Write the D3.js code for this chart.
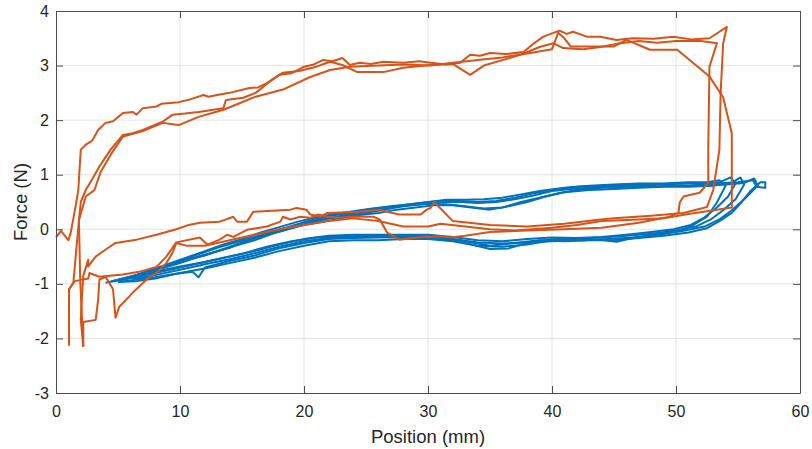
<!DOCTYPE html>
<html>
<head>
<meta charset="utf-8">
<script src="https://cdn.jsdelivr.net/npm/d3@7"></script>
<style>
  body { margin: 0; background: #fff; }
  svg text { font-family: "Liberation Sans", Arial, Helvetica, sans-serif; fill: #262626; }
</style>
</head>
<body>
<script>
// tick values
var xTicks = [0, 10, 20, 30, 40, 50, 60];
var yTicks = [-3, -2, -1, 0, 1, 2, 3, 4];

// blue loops [position, force]
var blue1 = [[4.0,-0.98],[5.5,-0.9],[7,-0.82],[8.5,-0.72],[10,-0.62],[11.5,-0.5],[13,-0.4],[14.5,-0.3],[16,-0.2],[17.5,-0.08],[19,0.02],[20.5,0.12],[22,0.2],[23.5,0.25],[25,0.3],[26.5,0.36],[28,0.42],[29.5,0.46],[31,0.5],[32.5,0.5],[34,0.48],[35.5,0.5],[37,0.55],[38.5,0.62],[40,0.7],[41.5,0.74],[43,0.76],[45,0.8],[47,0.8],[49,0.82],[51,0.8],[53,0.84],[55,0.86],[56.2,0.9],[56.5,0.78],[57.2,0.76],[57.2,0.86],[56.8,0.86],
  [56,0.7],[55.3,0.5],[54.5,0.3],[53.5,0.15],[52.5,0.02],[51,-0.06],[49,-0.12],[47,-0.16],[45,-0.2],[43,-0.2],[41,-0.22],[39,-0.2],[37,-0.25],[35,-0.3],[33,-0.22],[31,-0.15],[29,-0.12],[27,-0.12],[25,-0.12],[23,-0.13],[21,-0.15],[19,-0.22],[17,-0.32],[15,-0.45],[13,-0.55],[11,-0.65],[9,-0.75],[7,-0.85],[5.5,-0.92],[4.2,-0.97]];
var blue2 = [[4.5,-0.95],[6,-0.88],[7.5,-0.78],[9,-0.66],[10.5,-0.56],[12,-0.48],[13.5,-0.36],[15,-0.24],[16.5,-0.12],[18,-0.04],[19.5,0.06],[21,0.16],[22.5,0.22],[24,0.3],[25.5,0.34],[27,0.4],[28.5,0.44],[30,0.47],[31.5,0.46],[33,0.42],[34.5,0.38],[36,0.4],[37.5,0.5],[39,0.58],[40.5,0.66],[42,0.72],[44,0.76],[46,0.78],[48,0.78],[50,0.8],[52,0.8],[54,0.82],[55.5,0.85],[56.3,0.93],[56.6,0.8],
  [55.5,0.55],[54.5,0.35],[53.5,0.18],[52.3,0.05],[50.5,-0.03],[48.5,-0.1],[46.5,-0.15],[44.5,-0.18],[42.5,-0.2],[40.5,-0.18],[38.5,-0.22],[36.5,-0.35],[35,-0.36],[33.5,-0.28],[32,-0.2],[30,-0.16],[28,-0.14],[26,-0.15],[24,-0.16],[22,-0.18],[20,-0.25],[18,-0.35],[16,-0.48],[14,-0.58],[12,-0.7],[11.5,-0.88],[11,-0.78],[9.5,-0.82],[8,-0.88],[6.5,-0.92],[5,-0.97]];
var blue3 = [[5,-0.92],[6.5,-0.84],[8,-0.74],[9.5,-0.64],[11,-0.54],[12.5,-0.44],[14,-0.34],[15.5,-0.2],[17,-0.1],[18.5,0.0],[20,0.08],[21.5,0.14],[23,0.2],[24.5,0.26],[26,0.3],[27.5,0.36],[29,0.4],[30.5,0.44],[32,0.44],[33.5,0.4],[35,0.36],[36.5,0.42],[38,0.5],[39.5,0.6],[41,0.68],[43,0.72],[45,0.74],[47,0.76],[49,0.78],[51,0.78],[53,0.8],[54.5,0.85],[55.2,0.95],[55.5,0.82],
  [54.8,0.55],[53.8,0.35],[52.8,0.18],[51.6,0.05],[50,-0.02],[48,-0.08],[46,-0.12],[44,-0.15],[42,-0.17],[40,-0.2],[38,-0.28],[36,-0.32],[34,-0.3],[32,-0.22],[30,-0.18],[28,-0.18],[26,-0.2],[24,-0.2],[22,-0.22],[20,-0.3],[18,-0.4],[16,-0.52],[14,-0.62],[12,-0.72],[10,-0.8],[8,-0.9],[6.5,-0.95],[5.2,-0.96]];
var blue4 = [[5.5,-0.9],[7,-0.8],[8.5,-0.7],[10,-0.58],[11.5,-0.46],[13,-0.34],[14.5,-0.24],[16,-0.14],[17.5,-0.04],[19,0.06],[20.5,0.16],[22,0.24],[23.5,0.3],[25,0.36],[26.5,0.4],[28,0.44],[29.5,0.48],[31,0.52],[32.5,0.52],[34,0.5],[35.5,0.52],[37,0.58],[38.5,0.66],[40,0.72],[42,0.78],[44,0.8],[46,0.82],[48,0.82],[50,0.84],[52,0.84],[53.5,0.86],[54.4,0.95],[54.8,0.84],
  [54.2,0.6],[53.3,0.4],[52.3,0.22],[51.2,0.08],[49.8,0],[48,-0.05],[46,-0.1],[44,-0.14],[42,-0.16],[40,-0.15],[38,-0.18],[36,-0.22],[34,-0.2],[32,-0.14],[30,-0.1],[28,-0.1],[26,-0.1],[24,-0.1],[22,-0.12],[20,-0.18],[18,-0.28],[16,-0.4],[14,-0.5],[12,-0.6],[10,-0.68],[8,-0.78],[6.5,-0.86],[5.5,-0.9]];
var blue5 = [[6,-0.88],[7.5,-0.76],[9,-0.64],[10.5,-0.52],[12,-0.4],[13.5,-0.28],[15,-0.18],[16.5,-0.06],[18,0.04],[19.5,0.14],[21,0.22],[22.5,0.28],[24,0.33],[25.5,0.38],[27,0.42],[28.5,0.46],[30,0.5],[31.5,0.54],[33,0.54],[34.5,0.55],[36,0.58],[37.5,0.64],[39,0.7],[41,0.76],[43,0.8],[45,0.82],[47,0.84],[49,0.84],[51,0.86],[52.5,0.86],[53.5,0.9],[54,0.8],
  [53.3,0.49],[52.5,0.23],[51.4,0.08],[50.6,0],[49.3,-0.07],[47.9,-0.12],[46.5,-0.16],[45.2,-0.23],[43.9,-0.19],[42,-0.2],[40,-0.22],[38,-0.24],[36,-0.26],[34,-0.24],[32,-0.18],[30,-0.14],[28,-0.12],[26,-0.12],[24,-0.14],[22,-0.16],[20,-0.22],[18,-0.32],[16,-0.44],[14,-0.55],[12,-0.64],[10,-0.74],[8,-0.84],[6.5,-0.9],[6,-0.88]];

// orange cycles [position, force]
var orange1 = [[0,-0.15],[0.4,-0.03],[1.0,-0.2],[1.2,-0.05],[1.4,0.2],[1.6,0.45],[1.8,0.72],[1.9,1.1],[2.0,1.46],[2.4,1.55],[2.9,1.62],[3.4,1.82],[4.0,1.95],[4.6,1.98],[5.4,2.13],[6.2,2.15],[6.5,2.1],[7,2.22],[8.1,2.25],[8.5,2.3],[9.9,2.33],[10.8,2.38],[11.9,2.46],[12.3,2.43],[13.2,2.47],[14,2.5],[15.6,2.59],[16.3,2.6],[17,2.68],[18,2.83],[19,2.86],[19.6,2.93],[20,2.98],[20.8,3.02],[21.5,3.1],[22.3,3.08],[23.1,3.14],[23.7,3.01],[24.5,3.05],[25.4,3.03],[26.4,3.07],[28,3.05],[29.3,3.08],[30.2,3.05],[31.5,3.02],[32.6,3.05],[33.4,3.2],[34.2,3.18],[35,3.23],[36.3,3.21],[37.7,3.25],[38.5,3.4],[39.3,3.53],[40.6,3.64],[41.2,3.58],[41.7,3.62],[42.8,3.53],[43.9,3.53],[45.2,3.47],[46.5,3.5],[48.2,3.49],[49.8,3.53],[51.2,3.48],[52.7,3.5],[53.5,3.62],[54.1,3.71],[53.8,3.4],
  [53.6,2.5],[53.5,1.46],[53,0.72],[52.5,0.41],[50.6,0.3],[48,0.25],[45,0.2],[43.9,0.18],[41,0.1],[38,0.05],[35,0.08],[32,0.15],[30.5,0.5],[30.2,0.39],[29.9,0.36],[29.4,0.27],[27.7,0.27],[26.7,0.32],[26.1,0.36],[24.5,0.32],[21.9,0.3],[21.3,0.23],[20.5,0.27],[20.2,0.36],[19.4,0.39],[18.9,0.36],[15.9,0.32],[15.4,0.14],[14.6,0.14],[14.3,0.23],[13.2,0.14],[11.6,0.12],[10.7,0.08],[9.7,0],[8.1,-0.1],[6.5,-0.19],[4.8,-0.25],[4,-0.37],[3.2,-0.5],[2.6,-0.68],[2.6,-0.56],[2.2,-0.85],[2.1,-1.2],[2.0,-1.66],[2.2,-2.15]];
var orange2 = [[2.2,-2.15],[2.1,-1.66],[1.95,-0.92],[1.85,0.17],[2.0,0.5],[2.4,0.72],[3.0,0.95],[3.5,1.15],[4.4,1.46],[5.4,1.73],[6.2,1.76],[7.0,1.82],[8.6,1.97],[9.4,2.1],[10.4,2.12],[11.5,2.15],[13.5,2.22],[13.7,2.37],[15.1,2.41],[16.1,2.5],[17.2,2.7],[18.3,2.87],[19.6,2.9],[21,2.98],[22.1,3.07],[23.1,3.01],[24.3,2.88],[26.4,2.88],[28,2.96],[30.2,3.01],[32,3.03],[33.4,2.83],[34.5,3.0],[36,3.1],[37.5,3.2],[39,3.34],[40.1,3.41],[40.9,3.32],[42.5,3.3],[43.9,3.34],[45.5,3.41],[47,3.45],[48.5,3.42],[50,3.45],[52,3.45],[53.3,3.41],
  [52.7,2.98],[52.6,1.46],[52.6,0.85],[51.9,0.67],[50.6,0.6],[50.3,0.49],[50.2,0.3],[49.5,0.23],[47,0.12],[44,0.03],[41,0.0],[38,-0.02],[35,-0.05],[33,-0.12],[31.8,-0.15],[31,-0.13],[29.1,-0.15],[27.7,-0.19],[26.7,-0.06],[26.1,0.18],[25.6,0.23],[23.7,0.23],[22.9,0.21],[21.9,0.23],[21.1,0.27],[20.5,0.21],[19.7,0.23],[18.9,0.18],[18.3,0.23],[18.1,0.14],[17,0.05],[15.4,-0.01],[14.3,-0.14],[13.8,-0.1],[13.2,-0.19],[12.2,-0.28],[11.6,-0.15],[9.7,-0.24],[8.9,-0.5],[8.1,-0.69],[6.7,-0.78],[5.4,-0.83],[3.5,-0.87],[2.7,-0.8],[2.6,-0.9],[1.5,-0.95],[1.05,-1.1],[1.05,-2.13]];
var orange3 = [[1.05,-2.13],[1.05,-1.1],[1.4,-0.98],[1.85,0.17],[2.4,0.6],[3.1,0.72],[3.6,1.05],[4.5,1.4],[5.4,1.7],[7,1.8],[8.6,1.95],[9.9,1.91],[11.5,2.06],[13.5,2.19],[14.8,2.31],[16.1,2.43],[18.3,2.56],[20.5,2.79],[22.1,2.92],[23.7,2.98],[26,3.0],[28,3.02],[30.2,3.0],[32,3.05],[34,3.1],[36,3.15],[38,3.22],[40,3.3],[40.5,3.6],[41,3.5],[41.5,3.35],[43,3.35],[45,3.35],[46,3.47],[47.9,3.29],[50.1,3.29],
  [52.7,2.8],[53.8,2.42],[54.5,1.76],[54.5,0.4],[53.3,0.36],[51,0.28],[49,0.2],[47,0.18],[44,0.15],[42,0.08],[40,0.03],[37,-0.02],[35,0.0],[33,0.05],[31,0.1],[30,0.05],[28,0.05],[26,0.15],[24,0.2],[22,0.15],[20,0.08],[18,0.0],[16,-0.1],[14,-0.2],[12,-0.3],[10.5,-0.3],[9.7,-0.25],[9.4,-0.43],[8.9,-0.62],[8.1,-0.8],[7.3,-0.92],[6.2,-1.16],[5.4,-1.35],[5.1,-1.42],[4.8,-1.62],[4.6,-1.1],[4,-0.87],[3.5,-0.92],[3.4,-1.29],[3.2,-1.66],[2.2,-1.7],[2.2,-2.15]];

var blueSeries = [blue1, blue2, blue3, blue4, blue5];
var orangeSeries = [orange1, orange2, orange3];

var W = 812, H = 449;
var margin = {top: 11, right: 12, bottom: 56, left: 56};

var svg = d3.select("body").append("svg")
    .attr("width", W)
    .attr("height", H);

var x = d3.scaleLinear().domain([0, 60]).range([margin.left, W - margin.right]);
var y = d3.scaleLinear().domain([-3, 4]).range([H - margin.bottom, margin.top]);

// grid
var grid = svg.append("g").attr("stroke", "#e3e3e3").attr("stroke-width", 1);
grid.selectAll("line.gx")
  .data(xTicks.slice(1, -1))
  .enter().append("line")
    .attr("x1", function(d) { return x(d); })
    .attr("x2", function(d) { return x(d); })
    .attr("y1", y(-3)).attr("y2", y(4));
grid.selectAll("line.gy")
  .data(yTicks.slice(1, -1))
  .enter().append("line")
    .attr("y1", function(d) { return y(d); })
    .attr("y2", function(d) { return y(d); })
    .attr("x1", x(0)).attr("x2", x(60));

var line = d3.line()
    .x(function(d) { return x(d[0]); })
    .y(function(d) { return y(d[1]); });

var plot = svg.append("g");

plot.selectAll("path.blue")
  .data(blueSeries)
  .enter().append("path")
    .attr("class", "blue")
    .attr("d", line)
    .attr("fill", "none")
    .attr("stroke", "#0072BD")
    .attr("stroke-width", 2)
    .attr("stroke-linejoin", "round");

plot.selectAll("path.orange")
  .data(orangeSeries)
  .enter().append("path")
    .attr("class", "orange")
    .attr("d", line)
    .attr("fill", "none")
    .attr("stroke", "#D95319")
    .attr("stroke-width", 2)
    .attr("stroke-linejoin", "round");

// axes, ticks inside like matlab
var fmt = function(d) { return String(d); };

function styleAxis(g) {
  g.selectAll("path.domain").attr("stroke", "#4d4d4d");
  g.selectAll(".tick line").attr("stroke", "#4d4d4d");
  g.selectAll("text")
    .attr("font-size", "16px")
    .attr("fill", "#262626")
    .attr("font-family", "'Liberation Sans', Arial, Helvetica, sans-serif");
}

svg.append("g")
    .attr("transform", "translate(0," + y(-3) + ")")
    .call(d3.axisBottom(x).tickValues(xTicks).tickFormat(fmt).tickSizeInner(-7).tickSizeOuter(0).tickPadding(13))
    .call(styleAxis);

svg.append("g")
    .attr("transform", "translate(0," + y(4) + ")")
    .call(d3.axisTop(x).tickValues(xTicks).tickSizeInner(-7).tickSizeOuter(0).tickFormat(""))
    .call(styleAxis);

svg.append("g")
    .attr("transform", "translate(" + x(0) + ",0)")
    .call(d3.axisLeft(y).tickValues(yTicks).tickFormat(fmt).tickSizeInner(-7).tickSizeOuter(0).tickPadding(7))
    .call(styleAxis);

svg.append("g")
    .attr("transform", "translate(" + x(60) + ",0)")
    .call(d3.axisRight(y).tickValues(yTicks).tickSizeInner(-7).tickSizeOuter(0).tickFormat(""))
    .call(styleAxis);

// axis labels
svg.append("text")
    .attr("x", x(30))
    .attr("y", 443)
    .attr("text-anchor", "middle")
    .attr("font-size", "18.5px")
    .text("Position (mm)");

svg.append("text")
    .attr("transform", "translate(27," + y(0.5) + ") rotate(-90)")
    .attr("text-anchor", "middle")
    .attr("font-size", "18.5px")
    .text("Force (N)");
</script>
</body>
</html>
